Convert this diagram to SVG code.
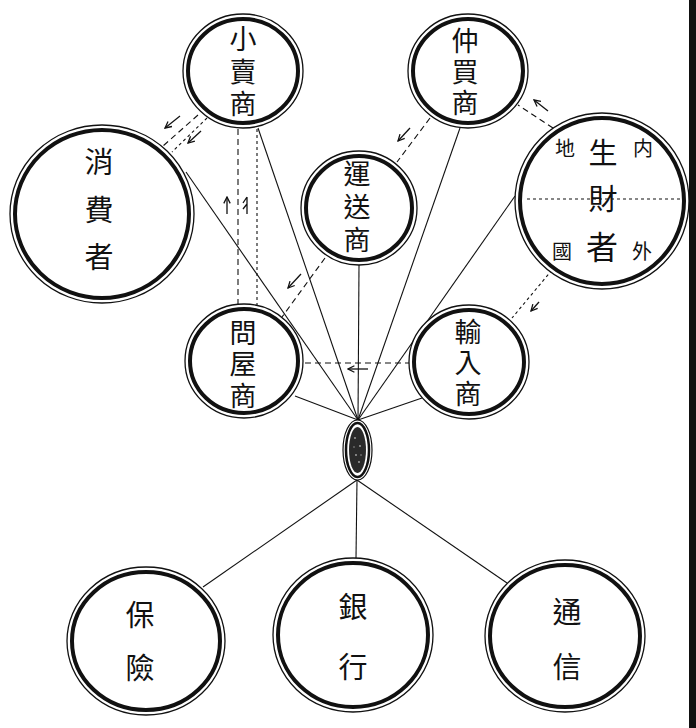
<svg xmlns="http://www.w3.org/2000/svg" width="696" height="728" viewBox="0 0 696 728">
<style>
.o{fill:#fff;stroke:#111;stroke-width:1.3}
.i{fill:none;stroke:#111;stroke-width:4}
.t{font-family:"Noto Sans CJK TC","Noto Sans CJK JP",serif;font-size:29px;fill:#111;text-anchor:middle;dominant-baseline:central}
.v{font-family:"Noto Sans CJK TC","Noto Sans CJK JP",serif;font-size:27px;fill:#111;text-anchor:middle;writing-mode:vertical-rl}
.s{font-size:20px}
.ln{stroke:#111;stroke-width:1.1;fill:none}
.da{stroke:#111;stroke-width:1.1;fill:none;stroke-dasharray:6 4}
.dt{stroke:#111;stroke-width:1.1;fill:none;stroke-dasharray:3 3}
.ar{stroke:#111;stroke-width:1.3;fill:none}
</style>
<defs>
<marker id="ah" viewBox="0 0 10 10" refX="9" refY="5" markerWidth="8" markerHeight="8" orient="auto" markerUnits="userSpaceOnUse">
<path d="M1,1 L9,5 L1,9" fill="none" stroke="#111" stroke-width="1.6"/>
</marker>
</defs>
<rect width="696" height="728" fill="#fff"/>
<rect x="689" y="0" width="7" height="728" fill="#111"/>

<g id="connectors">
<line class="ln" x1="186" y1="172" x2="358" y2="420"/>
<line class="ln" x1="258" y1="128" x2="358" y2="420"/>
<line class="ln" x1="359" y1="265" x2="358" y2="420"/>
<line class="ln" x1="460" y1="128" x2="358" y2="420"/>
<line class="ln" x1="515" y1="196" x2="358" y2="420"/>
<line class="ln" x1="295" y1="396" x2="358" y2="420"/>
<line class="ln" x1="422" y1="398" x2="358" y2="420"/>
<line class="ln" x1="357" y1="480" x2="203" y2="587"/>
<line class="ln" x1="357" y1="480" x2="356" y2="558"/>
<line class="ln" x1="357" y1="480" x2="507" y2="583"/>
<line class="da" x1="198" y1="115" x2="163" y2="146"/>
<line class="dt" x1="207" y1="118" x2="172" y2="152"/>
<line class="da" x1="238" y1="129" x2="238" y2="305"/>
<line class="dt" x1="257" y1="129" x2="257" y2="305"/>
<line class="da" x1="430" y1="118" x2="397" y2="162"/>
<line class="da" x1="553" y1="128" x2="518" y2="105"/>
<line class="da" x1="325" y1="258" x2="282" y2="317"/>
<line class="dt" x1="552" y1="270" x2="512" y2="318"/>
<line class="da" x1="305" y1="363" x2="410" y2="363" stroke-dasharray="4 3"/>
<line class="ar" x1="180" y1="116" x2="165" y2="128" marker-end="url(#ah)"/>
<line class="ar" x1="201" y1="131" x2="188" y2="143" marker-end="url(#ah)"/>
<line class="ar" x1="227" y1="214" x2="227" y2="197" marker-end="url(#ah)"/>
<path class="ar" d="M247,214 V197 M247,197 L243,203 M247,204 L243,209"/>
<line class="ar" x1="410" y1="128" x2="398" y2="141" marker-end="url(#ah)"/>
<line class="ar" x1="548" y1="111" x2="534" y2="100" marker-end="url(#ah)"/>
<line class="ar" x1="301" y1="274" x2="288" y2="288" marker-end="url(#ah)"/>
<line class="ar" x1="539" y1="302" x2="531" y2="311" marker-end="url(#ah)"/>
<line class="ar" x1="368" y1="369" x2="348" y2="369" marker-end="url(#ah)"/>
</g>

<g id="shoubaishang">
<ellipse class="o" cx="243" cy="71" rx="60" ry="57"/>
<ellipse class="i" cx="243" cy="71" rx="55" ry="52"/>
<text class="v" x="243" y="74" letter-spacing="5.5">小賣商</text>
</g>

<g id="nakagaishou">
<ellipse class="o" cx="468" cy="71" rx="60" ry="57"/>
<ellipse class="i" cx="468" cy="71" rx="55" ry="52"/>
<text class="v" x="465" y="74" letter-spacing="4">仲買商</text>
</g>

<g id="shouhisha">
<ellipse class="o" cx="102" cy="214" rx="92" ry="89"/>
<ellipse class="i" cx="102" cy="214" rx="87" ry="84"/>
<text class="v" x="99" y="219" letter-spacing="18.5" style="font-size:29px">消費者</text>
</g>

<g id="unsoushou">
<ellipse class="o" cx="359" cy="208" rx="58" ry="57"/>
<ellipse class="i" cx="359" cy="208" rx="53" ry="52"/>
<text class="v" x="357" y="210" letter-spacing="6">運送商</text>
</g>

<g id="seizaisha">
<ellipse class="o" cx="602" cy="201" rx="87" ry="88"/>
<ellipse class="i" cx="602" cy="201" rx="82" ry="83"/>
<line class="dt" x1="527" y1="199" x2="684" y2="199" stroke-dasharray="3 2"/>
<text class="t s" x="565" y="147">地</text>
<text class="t" x="603" y="151">生</text>
<text class="t s" x="643" y="147">内</text>
<text class="t" x="603" y="197">財</text>
<text class="t s" x="562" y="250">國</text>
<text class="t" x="602" y="245" style="font-size:32px">者</text>
<text class="t s" x="642" y="250">外</text>
</g>

<g id="tonyashou">
<ellipse class="o" cx="244" cy="361" rx="59" ry="57"/>
<ellipse class="i" cx="244" cy="361" rx="54" ry="52"/>
<text class="v" x="243" y="366" letter-spacing="4.5">問屋商</text>
</g>

<g id="yunyuushou">
<ellipse class="o" cx="469" cy="362" rx="60" ry="57"/>
<ellipse class="i" cx="469" cy="362" rx="55" ry="52"/>
<text class="v" x="468" y="365" letter-spacing="4">輸入商</text>
</g>

<g id="hub">
<ellipse cx="357.5" cy="450" rx="14.5" ry="30" fill="#fff" stroke="#111" stroke-width="1.2"/>
<ellipse cx="357.5" cy="450" rx="11.5" ry="27" fill="none" stroke="#111" stroke-width="2.5"/>
<ellipse cx="357.5" cy="450" rx="8.5" ry="23" fill="#2a2a2a"/>
<g fill="#aaa">
<circle cx="355" cy="438" r="0.9"/><circle cx="360" cy="446" r="0.9"/><circle cx="356" cy="455" r="0.9"/><circle cx="359" cy="462" r="0.9"/><circle cx="354" cy="447" r="0.7"/><circle cx="361" cy="455" r="0.7"/>
</g>
</g>

<g id="hoken">
<ellipse class="o" cx="146" cy="641" rx="79" ry="74"/>
<ellipse class="i" cx="146" cy="641" rx="74" ry="69"/>
<text class="v" x="140" y="653.5" letter-spacing="24" style="font-size:29px">保險</text>
</g>

<g id="ginkou">
<ellipse class="o" cx="353" cy="635" rx="80" ry="77"/>
<ellipse class="i" cx="353" cy="635" rx="75" ry="72"/>
<text class="v" x="353" y="652.5" letter-spacing="31" style="font-size:29px">銀行</text>
</g>

<g id="tsuushin">
<ellipse class="o" cx="565" cy="636" rx="80" ry="76"/>
<ellipse class="i" cx="565" cy="636" rx="75" ry="71"/>
<text class="v" x="567" y="652.5" letter-spacing="26" style="font-size:29px">通信</text>
</g>
</svg>
